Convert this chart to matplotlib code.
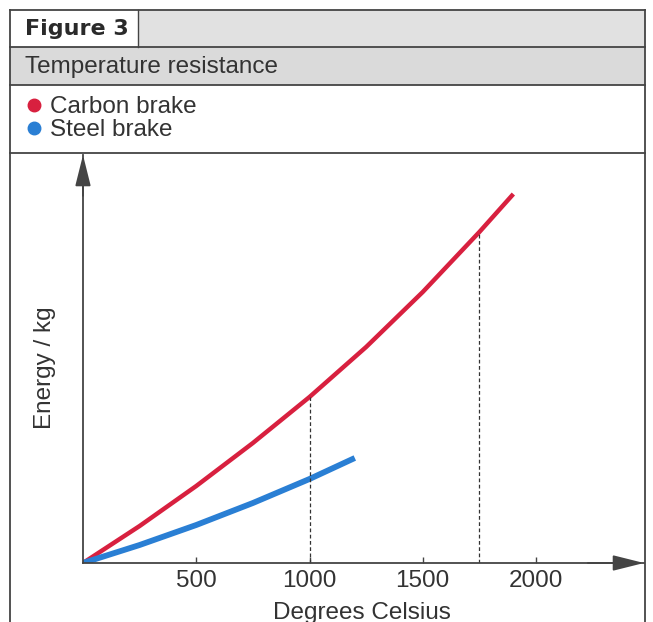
import numpy as np
import matplotlib.pyplot as plt
from matplotlib.patches import Rectangle
from matplotlib.lines import Line2D

# --- data (energy in arbitrary units) ----------------------------------------
series = ["Carbon brake", "Steel brake"]
colors = ["#d8203f", "#2a7fd4"]

carbon_temp = [0, 250, 500, 750, 1000, 1250, 1500, 1750, 1900]
carbon_energy = [0, 37, 77, 120, 166, 216, 271, 331, 369]

steel_temp = [0, 250, 500, 750, 1000, 1200]
steel_energy = [0, 18, 38, 60, 84, 105]

xticks = [500, 1000, 1500, 2000]
marked_temps = [1000, 1750]   # dashed drop lines onto the carbon curve

title_tag = "Figure 3"
title = "Temperature resistance"
xlabel = "Degrees Celsius"
ylabel = "Energy / kg"

W, H = 653, 622
plt.rcParams["font.family"] = ["Liberation Sans", "DejaVu Sans"]
EDGE = "#444444"
FS = 17.5


def fx(x):
    return x / W


def fy(y):
    return 1 - y / H


fig = plt.figure(figsize=(W / 100, H / 100), dpi=100)
fig.patch.set_facecolor("white")

# --- header table -----------------------------------------------------------
L, R, T = 10, 645, 10
rows = [47, 85, 153]
fig.patches.append(Rectangle((fx(138), fy(rows[0])), fx(R - 138), rows[0] / H - T / H,
                             transform=fig.transFigure, facecolor="#e1e1e1", edgecolor="none"))
fig.patches.append(Rectangle((fx(L), fy(rows[1])), fx(R - L), (rows[1] - rows[0]) / H,
                             transform=fig.transFigure, facecolor="#dadada", edgecolor="none"))
for y in [T] + rows:
    fig.add_artist(Line2D([fx(L), fx(R)], [fy(y), fy(y)], color=EDGE, lw=1.3))
for x in (L, R):
    fig.add_artist(Line2D([fx(x), fx(x)], [fy(T), 0], color=EDGE, lw=1.3))
fig.add_artist(Line2D([fx(138), fx(138)], [fy(T), fy(rows[0])], color=EDGE, lw=1.0))

fig.text(fx(25), fy(29), title_tag, fontsize=16, fontweight="bold",
         family="DejaVu Sans", color="#2a2a2a", va="center")
fig.text(fx(25), fy(67), title, fontsize=FS, color="#333333", va="center")

handles = [Line2D([], [], ls="none", marker="o", ms=9, color=c) for c in colors]
fig.legend(handles, series, loc="upper left", bbox_to_anchor=(fx(28), fy(96)),
           frameon=False, fontsize=FS, handletextpad=0.4, labelspacing=0.05,
           handlelength=0.5, borderpad=0, borderaxespad=0, labelcolor="#333333")

# --- plot area ----------------------------------------------------------------
ox, oy, top, right = 83, 563, 155, 644
ax = fig.add_axes([fx(ox), fy(oy), fx(right - ox), (oy - top) / H])
ax.set_xlim(0, (right - ox) / 0.2265)
ax.set_ylim(0, oy - top)

ax.plot(carbon_temp, carbon_energy, color=colors[0], lw=3.2, solid_capstyle="butt",
        solid_joinstyle="round")
ax.plot(steel_temp, steel_energy, color=colors[1], lw=4.2, solid_capstyle="butt",
        solid_joinstyle="round")
for t in marked_temps:
    ax.plot([t, t], [0, np.interp(t, carbon_temp, carbon_energy)],
            color="#333333", lw=0.9, ls=(0, (3, 2)))

for s in ("top", "right"):
    ax.spines[s].set_visible(False)
for s in ("left", "bottom"):
    ax.spines[s].set_color("#444444")
    ax.spines[s].set_linewidth(1.3)
ax.set_facecolor("none")
ax.set_xticks(xticks)
ax.set_yticks([])
ax.tick_params(axis="x", direction="in", length=4, width=1, color="#444444",
               labelsize=FS, labelcolor="#333333", pad=5)

arrow = dict(arrowstyle="-|>,head_length=1.2,head_width=0.3", color="#444444",
             lw=1.3, mutation_scale=16, shrinkA=0, shrinkB=0)
ax.annotate("", xy=(1, 0), xytext=(0.9, 0), xycoords="axes fraction",
            arrowprops=arrow, annotation_clip=False)
ax.annotate("", xy=(0, 1), xytext=(0, 0.9), xycoords="axes fraction",
            arrowprops=arrow, annotation_clip=False)

fig.text(fx(45), fy(368), ylabel, fontsize=FS, rotation=90, color="#333333",
         ha="center", va="center")
fig.text(fx(362), fy(602), xlabel, fontsize=FS, color="#333333", ha="center", va="top")

fig.savefig("out.png", dpi=100)
